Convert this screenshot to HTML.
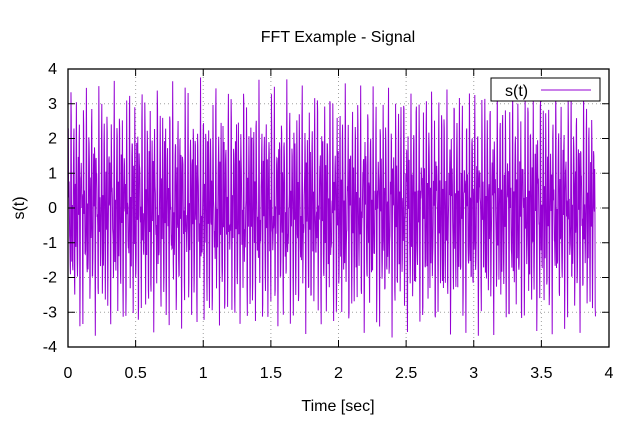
<!DOCTYPE html>
<html><head><meta charset="utf-8"><style>
html,body{margin:0;padding:0;background:#fff;}
svg text{font-family:"Liberation Sans",sans-serif;font-size:16px;fill:#000;}
</style></head><body>
<svg id="c" width="640" height="420">
<text x="338" y="42" text-anchor="middle">FFT Example - Signal</text>
<text x="338" y="411" text-anchor="middle">Time [sec]</text>
<text transform="translate(24,208) rotate(-90)" text-anchor="middle">s(t)</text>
<g id="grid"></g>
<path id="series" fill="none" stroke="#9400d3" stroke-width="1"/>
<g id="ticks"></g>
<rect x="68" y="69" width="541" height="278" fill="none" stroke="#000" stroke-width="1.3"/>
<g>
<rect x="491" y="78" width="109" height="23" fill="#fff" stroke="#000"/>
<text x="505" y="96">s(t)</text>
<line x1="541" y1="90" x2="591" y2="90" stroke="#9400d3"/>
</g>
</svg>
<script>
const xTicks=[0,0.5,1,1.5,2,2.5,3,3.5,4];
const yTicks=[-4,-3,-2,-1,0,1,2,3,4];
const compAmp=[1.6,1.3,0.9];
const compFreq=[53.3,97.1,131.7];
const tEnd=3.9, dt=0.002;
const X0=68,X1=609,Y0=347,Y1=69;
const sx=v=>X0+(v-0)/(4-0)*(X1-X0);
const sy=v=>Y0-(v+4)/8*(Y0-Y1);
const ns="http://www.w3.org/2000/svg";
const grid=document.getElementById('grid'),tk=document.getElementById('ticks');
function mk(p,tag,a){const e=document.createElementNS(ns,tag);for(const k in a)e.setAttribute(k,a[k]);p.appendChild(e);return e;}
xTicks.forEach(v=>{const x=sx(v);
 if(v>0&&v<4){const g=mk(grid,'line',{x1:x,x2:x,y1:Y1,y2:Y0,stroke:'#a0a0a0','stroke-dasharray':'1,3'});
 
 }
 mk(tk,'line',{x1:x,x2:x,y1:Y0,y2:Y0-7,stroke:'#000'});mk(tk,'line',{x1:x,x2:x,y1:Y1,y2:Y1+7,stroke:'#000'});
 const t=mk(tk,'text',{x:x,y:378,'text-anchor':'middle'});t.textContent=v;
 
 });
yTicks.forEach(v=>{const y=sy(v);
 if(v>-4&&v<4){const g=mk(grid,'line',{x1:X0,x2:X1,y1:y,y2:y,stroke:'#a0a0a0','stroke-dasharray':'1,3'});
 
 }
 mk(tk,'line',{x1:X0,x2:X0+7,y1:y,y2:y,stroke:'#000'});mk(tk,'line',{x1:X1,x2:X1-7,y1:y,y2:y,stroke:'#000'});
 const t=mk(tk,'text',{x:57,y:y+5,'text-anchor':'end'});t.textContent=v;
 
 });
let d='';
for(let i=0;i*dt<=tEnd+1e-9;i++){const t=i*dt;let s=0;
 for(let k=0;k<compAmp.length;k++)s+=compAmp[k]*Math.sin(2*Math.PI*compFreq[k]*t+k*0.7);
 d+=(i?'L':'M')+sx(t).toFixed(2)+' '+sy(s).toFixed(2);}
document.getElementById('series').setAttribute('d',d);
</script>
</body></html>
